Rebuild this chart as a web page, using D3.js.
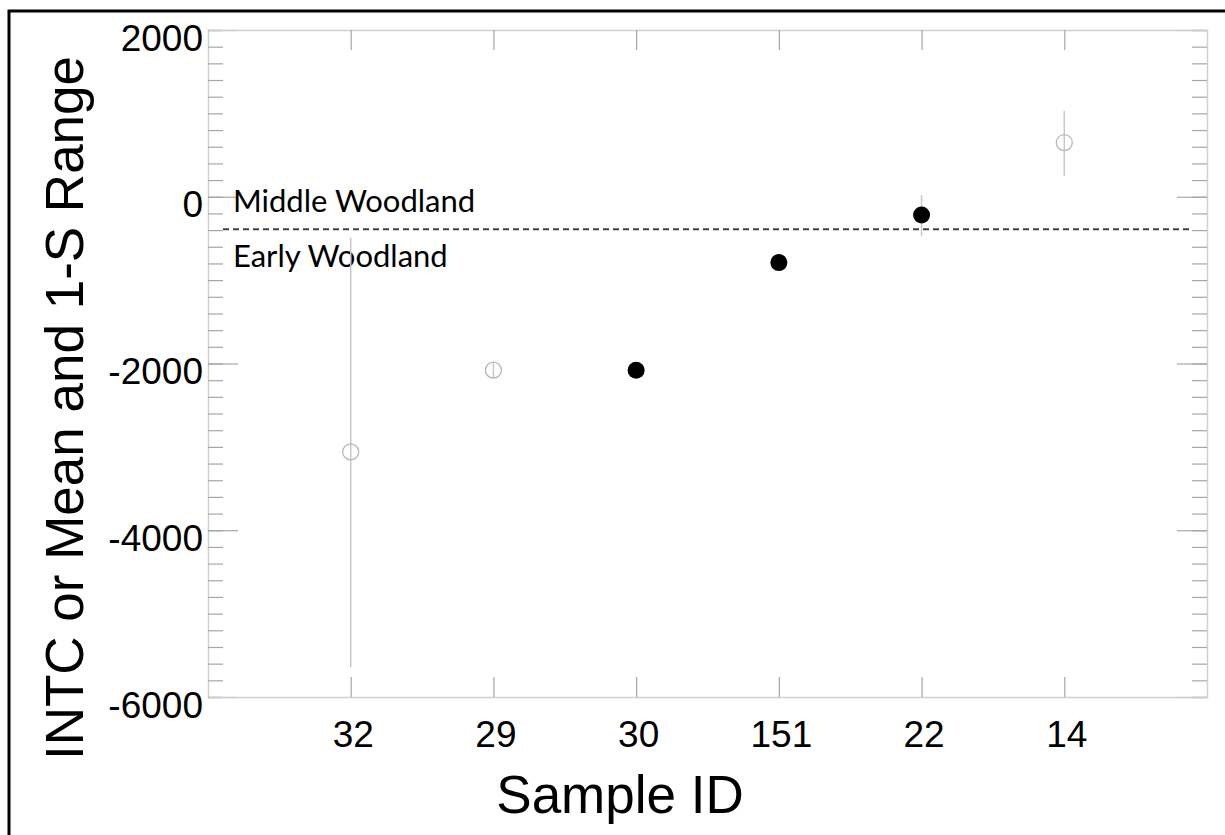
<!DOCTYPE html>
<html>
<head>
<meta charset="utf-8">
<script src="https://cdn.jsdelivr.net/npm/d3@7"></script>
<style>
  body { margin: 0; background: #fff; }
  text { font-family: "Liberation Sans", Arial, sans-serif; }
  .note { font-family: Lato, "Open Sans", sans-serif; }
</style>
</head>
<body>
<div id="chart"></div>
<script>
var svgWidth = 1225;
var svgHeight = 835;

var margin = { top: 30, right: 18, bottom: 138, left: 208 };
var width = svgWidth - margin.left - margin.right;
var height = svgHeight - margin.top - margin.bottom;

// chart values
var sampleIds = ["32", "29", "30", "151", "22", "14"];
var means = [-3060, -2080, -2080, -790, -220, 650];
var lows = [-5640, -2180, -2150, -860, -470, 250];
var highs = [-490, -1980, -2010, -720, 20, 1030];
var filled = [false, false, true, true, true, false];
var boundary = -390;
var yMajorTicks = [-6000, -4000, -2000, 0, 2000];
var yMinorTicks = d3.range(-6000, 2001, 200);
var periodLabels = ["Middle Woodland", "Early Woodland"];

var points = sampleIds.map(function (id, i) {
  return { id: id, mean: means[i], low: lows[i], high: highs[i], filled: filled[i] };
});

var svg = d3.select("#chart")
  .append("svg")
  .attr("width", svgWidth)
  .attr("height", svgHeight);

// outer frame
svg.append("rect")
  .attr("x", 9)
  .attr("y", 11)
  .attr("width", svgWidth)
  .attr("height", svgHeight)
  .attr("fill", "none")
  .attr("stroke", "#000")
  .attr("stroke-width", 3);

var chartGroup = svg.append("g")
  .attr("transform", `translate(${margin.left}, ${margin.top})`);

var x = d3.scalePoint()
  .domain(sampleIds)
  .range([0, width])
  .padding(1);

var y = d3.scaleLinear()
  .domain([-6000, 2000])
  .range([height, 0]);

var axisColor = "#d0d0d0";
var tickColor = "#a6a6a6";

function styleAxis(g) {
  g.select(".domain").attr("stroke", axisColor).attr("stroke-width", 1.5);
  g.selectAll(".tick line").attr("stroke", tickColor).attr("stroke-width", 1.2);
}

// left axis: minor ticks, then major ticks with labels
chartGroup.append("g")
  .call(d3.axisLeft(y).tickValues(yMinorTicks).tickSize(-15).tickFormat(""))
  .call(styleAxis);

var leftMajor = chartGroup.append("g")
  .call(d3.axisLeft(y).tickValues(yMajorTicks).tickSize(-30).tickPadding(5).tickFormat(d => String(d)))
  .call(styleAxis);
leftMajor.select(".domain").remove();
leftMajor.selectAll(".tick text")
  .attr("font-size", 37)
  .attr("fill", "#000")
  .attr("dy", 20)
  .attr("font-family", "Liberation Sans, Arial, sans-serif");

// right axis mirror
chartGroup.append("g")
  .attr("transform", `translate(${width}, 0)`)
  .call(d3.axisRight(y).tickValues(yMinorTicks).tickSize(-15).tickFormat(""))
  .call(styleAxis);
var rightMajor = chartGroup.append("g")
  .attr("transform", `translate(${width}, 0)`)
  .call(d3.axisRight(y).tickValues(yMajorTicks).tickSize(-30).tickFormat(""))
  .call(styleAxis);
rightMajor.select(".domain").remove();

// bottom axis with sample ids
var bottom = chartGroup.append("g")
  .attr("transform", `translate(0, ${height})`)
  .call(d3.axisBottom(x).tickSize(-20).tickSizeOuter(0).tickPadding(0))
  .call(styleAxis);
bottom.selectAll(".tick text")
  .attr("font-size", 37)
  .attr("fill", "#000")
  .attr("dx", 2)
  .attr("y", 50)
  .attr("dy", 0)
  .attr("font-family", "Liberation Sans, Arial, sans-serif");

// top axis
chartGroup.append("g")
  .call(d3.axisTop(x).tickSize(-20).tickSizeOuter(0).tickFormat(""))
  .call(styleAxis);

// period boundary
chartGroup.append("line")
  .attr("x1", 15)
  .attr("x2", width - 15)
  .attr("y1", y(boundary))
  .attr("y2", y(boundary))
  .attr("stroke", "#404040")
  .attr("stroke-width", 2)
  .attr("stroke-dasharray", "6,4");

chartGroup.selectAll(".note")
  .data(periodLabels)
  .enter()
  .append("text")
  .classed("note", true)
  .attr("x", 25)
  .attr("y", (d, i) => i === 0 ? y(boundary) - 17 : y(boundary) + 38)
  .attr("font-size", 31)
  .attr("fill", "#000")
  .text(d => d);

// error bars
chartGroup.selectAll(".err")
  .data(points)
  .enter()
  .append("line")
  .classed("err", true)
  .attr("x1", d => x(d.id))
  .attr("x2", d => x(d.id))
  .attr("y1", d => y(d.high))
  .attr("y2", d => y(d.low))
  .attr("stroke", "#c8c8c8")
  .attr("stroke-width", 1.5);

// means
chartGroup.selectAll(".dot")
  .data(points)
  .enter()
  .append("circle")
  .classed("dot", true)
  .attr("cx", d => x(d.id))
  .attr("cy", d => y(d.mean))
  .attr("r", d => d.filled ? 8.5 : 8)
  .attr("fill", d => d.filled ? "#000" : "none")
  .attr("stroke", d => d.filled ? "none" : "#b8b8b8")
  .attr("stroke-width", 1.3);

// axis titles
svg.append("text")
  .attr("transform", `translate(83, ${408}) rotate(-90)`)
  .attr("text-anchor", "middle")
  .attr("font-size", 53)
  .attr("fill", "#000")
  .text("INTC or Mean and 1-S Range");

svg.append("text")
  .attr("x", 620)
  .attr("y", 813)
  .attr("text-anchor", "middle")
  .attr("font-size", 53)
  .attr("fill", "#000")
  .text("Sample ID");
</script>
</body>
</html>
